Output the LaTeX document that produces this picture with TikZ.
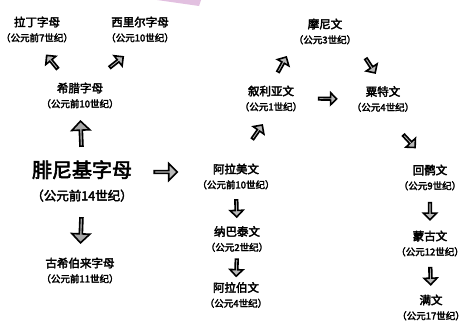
\documentclass[tikz,border=0pt]{standalone}
\usepackage{fontspec}
\setmainfont{Noto Sans CJK SC}[FakeBold=3]
\usetikzlibrary{shapes.arrows}
\definecolor{smudge}{RGB}{226,192,224}
\tikzset{
 lbl/.style={align=center,inner sep=1pt,font=\fontsize{11.5}{15}\selectfont},
 blk/.style={single arrow,draw=black,fill=gray!55,line width=1.6pt,inner sep=0pt,
  minimum height=17pt,minimum width=13pt,single arrow head extend=3pt,
  sloped,allow upside down},
 midblk/.style={blk,minimum height=23pt,minimum width=17pt,single arrow head extend=4pt},
 bigblk/.style={blk,minimum height=25pt,minimum width=18pt,single arrow head extend=4pt,fill=gray!70}
}
\newcommand{\yr}[1]{{\fontsize{9.5}{15}\selectfont （#1）}}
\begin{document}
\begin{tikzpicture}[x=1pt,y=-1pt]
 \fill[white] (0,0) rectangle (467,324);
 \useasboundingbox (0,0) rectangle (467,324);
 \fill[smudge] (157,0) -- (201,0) -- (199,6) -- cycle;
 \foreach \n/\px/\py/\t/\d in {lat/37/29.5/拉丁字母/公元前7世纪,
  cyr/140/29.5/西里尔字母/公元10世纪, grk/80/95.5/希腊字母/公元前10世纪,
  heb/80/270.5/古希伯来字母/公元前11世纪, man/325/31.5/摩尼文/公元3世纪,
  syr/271/98.5/叙利亚文/公元1世纪, sog/383/99/粟特文/公元4世纪,
  arm/236/176.5/阿拉美文/公元前10世纪, uyg/430/177.5/回鹘文/公元9世纪,
  nab/237/239/纳巴泰文/公元2世纪, mon/430/243.5/蒙古文/公元12世纪,
  arb/236/295/阿拉伯文/公元4世纪, mch/431/307.5/满文/公元17世纪}
  \node[lbl] (\n) at (\px,\py) {\t\\\yr{\d}};
 \node[lbl,font=\fontsize{20}{23}\selectfont] (phn) at (82,181)
  {腓尼基字母\\{\fontsize{12.5}{23}\selectfont （公元前14世纪）}};

 \path ([xshift=-12pt]grk.north) -- node[blk]{} (lat.south);
 \path ([xshift=12pt]grk.north) -- node[blk]{} (cyr.south);
 \path (phn.north) -- node[bigblk]{} (grk.south);
 \path (phn.south) -- node[bigblk]{} (heb.north);
 \path ([yshift=9pt]phn.east) -- node[midblk]{} ([yshift=4.5pt]arm.west);
 \path (arm.north) -- node[blk,pos=0.6]{} (syr.south);
 \path (syr.north) -- node[blk]{} (man.south west);
 \path (man.south east) -- node[blk]{} (sog.north);
 \path (syr.east) -- node[blk,minimum height=18pt,minimum width=12pt]{} (sog.west);
 \path (sog.south) -- node[blk,pos=0.55]{} (uyg.north);
 \path (arm.south) -- node[blk]{} (nab.north);
 \path (nab.south) -- node[blk]{} (arb.north);
 \path (uyg.south) -- node[blk]{} (mon.north);
 \path (mon.south) -- node[blk]{} (mch.north);
\end{tikzpicture}
\end{document}
